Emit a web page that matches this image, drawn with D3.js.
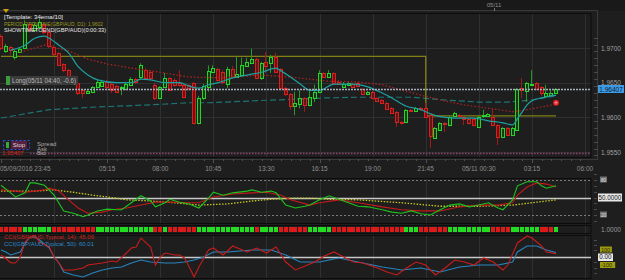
<!DOCTYPE html>
<html><head><meta charset="utf-8">
<script src="https://cdn.jsdelivr.net/npm/d3@7"></script>
<style>body{margin:0;background:#1e1e1e;overflow:hidden}svg{display:block;font-family:"Liberation Sans",Arial,sans-serif}</style>
</head><body><svg id="c" width="625" height="280"></svg>
<script>
// ---------------- DATA ----------------
const tickIdx = [0,22,33,44,55,66,77,88,99,110,121];
const tickLabels = ["05/09/2016 23:45","05:15","08:00","10:45","13:30","16:15","19:00","21:45","05/11 00:30","03:15","06:00"];
const gridIdx = [11,22,33,44,55,66,77,88,99,110,121];
const priceTicks = [1.955,1.96,1.965,1.97];

const opens = [1.9717,1.9696,1.9701,1.9688,1.9694,1.9700,1.9735,1.9726,1.9730,1.9735,
1.9723,1.9701,1.9693,1.9677,1.9668,1.9658,1.9650,1.9639,1.9635,1.9637,
1.9644,1.9645,1.9651,1.9648,1.9645,1.9642,1.9641,1.9647,1.9655,1.9657,
1.9668,1.9665,1.9647,1.9628,1.9644,1.9657,1.9654,1.9650,1.9647,1.9647,
1.9650,1.9592,1.9628,1.9644,1.9665,1.9670,1.9665,1.9648,1.9670,1.9658,
1.9661,1.9674,1.9678,1.9684,1.9657,1.9680,1.9678,1.9687,1.9670,1.9642,
1.9634,1.9616,1.9619,1.9628,1.9618,1.9629,1.9637,1.9664,1.9658,1.9664,
1.9651,1.9644,1.9647,1.9648,1.9650,1.9641,1.9634,1.9637,1.9628,1.9625,
1.9621,1.9613,1.9608,1.9593,1.9593,1.9611,1.9609,1.9613,1.9613,1.9603,
1.9570,1.9582,1.9592,1.9589,1.9602,1.9603,1.9601,1.9598,1.9598,1.9586,
1.9601,1.9602,1.9601,1.9589,1.9572,1.9585,1.9575,1.9582,1.9642,1.9639,
1.9647,1.9650,1.9644,1.9631,1.9632,1.9635];
const closes = [1.9700,1.9703,1.9696,1.9696,1.9699,1.9735,1.9726,1.9733,1.9737,1.9723,
1.9703,1.9691,1.9675,1.9668,1.9657,1.9650,1.9635,1.9634,1.9638,1.9644,
1.9651,1.9651,1.9644,1.9639,1.9637,1.9644,1.9648,1.9655,1.9650,1.9675,
1.9657,1.9657,1.9628,1.9644,1.9657,1.9639,1.9647,1.9647,1.9629,1.9642,
1.9593,1.9628,1.9645,1.9667,1.9671,1.9654,1.9650,1.9670,1.9658,1.9663,
1.9675,1.9680,1.9684,1.9657,1.9678,1.9674,1.9687,1.9665,1.9642,1.9634,
1.9616,1.9621,1.9628,1.9618,1.9629,1.9637,1.9664,1.9658,1.9664,1.9650,
1.9648,1.9648,1.9650,1.9644,1.9645,1.9634,1.9637,1.9628,1.9624,1.9621,
1.9613,1.9606,1.9593,1.9592,1.9611,1.9609,1.9613,1.9611,1.9600,1.9572,
1.9585,1.9592,1.9590,1.9601,1.9606,1.9601,1.9598,1.9592,1.9589,1.9601,
1.9603,1.9605,1.9589,1.9572,1.9585,1.9575,1.9585,1.9641,1.9639,1.9650,
1.9648,1.9642,1.9635,1.9635,1.9635,1.9641];
const highs = [1.9720,1.9706,1.9703,1.9697,1.9701,1.9740,1.9737,1.9737,1.9742,1.9737,
1.9726,1.9704,1.9694,1.9678,1.9670,1.9660,1.9651,1.9641,1.9639,1.9645,
1.9654,1.9654,1.9654,1.9650,1.9647,1.9645,1.9650,1.9658,1.9657,1.9678,
1.9671,1.9668,1.9650,1.9645,1.9664,1.9658,1.9657,1.9668,1.9648,1.9648,
1.9651,1.9631,1.9648,1.9675,1.9675,1.9671,1.9668,1.9673,1.9674,1.9687,
1.9686,1.9686,1.9699,1.9686,1.9680,1.9694,1.9690,1.9693,1.9671,1.9644,
1.9635,1.9637,1.9639,1.9629,1.9639,1.9647,1.9668,1.9665,1.9668,1.9665,
1.9654,1.9651,1.9651,1.9650,1.9651,1.9642,1.9638,1.9638,1.9629,1.9626,
1.9622,1.9615,1.9609,1.9595,1.9612,1.9612,1.9615,1.9615,1.9621,1.9605,
1.9586,1.9593,1.9593,1.9602,1.9608,1.9605,1.9602,1.9599,1.9599,1.9602,
1.9611,1.9606,1.9613,1.9590,1.9586,1.9586,1.9586,1.9642,1.9657,1.9651,
1.9668,1.9651,1.9645,1.9647,1.9639,1.9642];
const lows = [1.9697,1.9693,1.9690,1.9683,1.9693,1.9699,1.9723,1.9723,1.9727,1.9720,
1.9700,1.9688,1.9674,1.9665,1.9654,1.9647,1.9632,1.9628,1.9634,1.9635,
1.9642,1.9644,1.9641,1.9635,1.9635,1.9632,1.9639,1.9645,1.9648,1.9655,
1.9655,1.9654,1.9625,1.9626,1.9642,1.9638,1.9644,1.9644,1.9628,1.9639,
1.9590,1.9590,1.9625,1.9637,1.9664,1.9652,1.9648,1.9642,1.9657,1.9657,
1.9658,1.9673,1.9677,1.9655,1.9654,1.9664,1.9664,1.9664,1.9639,1.9631,
1.9611,1.9603,1.9613,1.9608,1.9616,1.9622,1.9635,1.9657,1.9657,1.9648,
1.9647,1.9642,1.9645,1.9642,1.9644,1.9632,1.9632,1.9626,1.9622,1.9619,
1.9612,1.9605,1.9586,1.9590,1.9592,1.9608,1.9608,1.9609,1.9599,1.9556,
1.9569,1.9581,1.9579,1.9587,1.9601,1.9599,1.9589,1.9590,1.9587,1.9585,
1.9599,1.9601,1.9587,1.9560,1.9570,1.9573,1.9573,1.9580,1.9628,1.9622,
1.9645,1.9641,1.9631,1.9629,1.9631,1.9634];

const ema10Idx = [2,5,7,9,10,12,14,16,18,20,24,27,29,31,34,37,39,41,43,45,48,51,54,57,58,60,62,64,66,69,73,76,79,81,84,87,89,91,94,98,101,104,106,107,108,109,110,112,115];
const ema10 = [1.9697,1.9704,1.9714,1.9717,1.9714,1.9704,1.9693,1.9673,1.9661,1.9654,1.9650,1.9650,1.9655,1.9654,1.9650,1.9650,1.9645,1.9642,1.9647,1.9650,1.9657,1.9661,1.9665,1.9671,1.9667,1.9658,1.9648,1.9639,1.9639,1.9648,1.9648,1.9644,1.9635,1.9628,1.9616,1.9611,1.9605,1.9601,1.9599,1.9599,1.9595,1.9592,1.9589,1.9598,1.9608,1.9618,1.9624,1.9628,1.9632];
const ema34Idx = [4,7,9,14,18,22,27,33,39,46,54,60,68,74,79,87,91,96,101,106,109,112,115];
const ema34 = [1.9694,1.9700,1.9704,1.9696,1.9684,1.9677,1.9671,1.9665,1.9658,1.9657,1.9661,1.9658,1.9652,1.9651,1.9647,1.9632,1.9625,1.9618,1.9613,1.9608,1.9611,1.9615,1.9619];
const emaLongIdx = [0,10,20,31,39,43,53,60,67,74,79,85,92,99,105,110,115];
const emaLong = [1.9599,1.9611,1.9615,1.9618,1.9621,1.9621,1.9624,1.9626,1.9628,1.9629,1.9629,1.9629,1.9625,1.9622,1.9622,1.9625,1.9631];

const prevDayOpen = 1.9688, dayOpen = 1.9602, dayChangeIdx = 88;
const lastPrice = 1.96407;
const stopPrice = 1.9549;
const orderMarkPrice = 1.9621;

const stochKIdx = [0,2,3,5,6,7,9,11,13,15,17,18,20,22,24,25,27,29,31,32,34,35,37,39,41,43,44,46,48,51,52,54,56,57,59,61,63,64,66,68,70,72,74,76,79,81,83,85,87,89,91,93,95,97,99,101,103,104,106,107,109,111,112,113,115];
const stochK = [71,58,51,58,75,75,71,54,27,23,17,20,27,30,29,29,41,53,44,34,41,47,42,39,32,49,59,54,58,61,63,59,61,58,37,32,35,37,46,53,47,41,35,34,29,25,23,27,22,20,29,37,39,34,37,41,32,29,46,70,77,77,70,66,70];
const stochDIdx = [0,3,5,7,9,10,12,14,16,18,21,23,26,29,32,35,39,41,44,48,52,55,58,60,64,66,70,74,79,83,87,91,95,99,103,106,107,109,111,113,115];
const stochD = [63,61,59,61,63,66,61,46,32,23,25,29,32,37,42,42,41,41,51,56,58,59,54,46,37,41,46,41,34,29,27,27,34,37,37,41,54,68,75,73,68];
const stochSIdx = [0,7,11,15,19,22,26,31,36,41,47,52,56,61,64,68,74,83,91,99,106,110,115];
const stochS = [61,61,63,59,54,51,46,44,41,37,39,44,47,49,49,47,46,41,35,35,37,41,46];

const trendSignals = ("RRRRR"+"GGGGGG"+"RRRRRRRRR"+"GGGGGGGGGGGG"+"RR"+"G"+"RRRRRR"+"GGGGGGGGGGGG"+"R"+"GGGG"+"RRRRRR"+"GGGGG"+"RRRRRRRRRRRRRRR"+"GGG"+"RRRRRR"+"GGGGGGGGG"+"RRRR"+"GGGGGG"+"RRR"+"G").split("");

const cci14Idx = [0,1,2,3,4,5,6,7,8,10,11,12,13,15,17,18,21,23,24,26,27,28,29,31,32,33,34,36,37,38,39,40,41,43,44,46,48,51,53,55,57,59,61,63,65,67,69,71,73,75,78,80,82,84,86,88,90,92,94,96,98,100,102,104,105,107,109,110,112,113,115];
const cci14 = [27,-20,-75,-80,0,200,267,293,200,133,0,-80,-173,-173,-147,-107,-80,-53,-67,53,120,133,253,133,-107,0,53,27,27,-13,-133,-267,-133,93,120,27,147,67,120,53,133,-67,-173,-120,-67,13,67,0,-67,-80,-147,-200,-240,-147,-67,-107,-240,-147,-40,-67,-107,-13,-67,-173,-107,187,280,253,147,67,45];
const cci50Idx = [0,1,2,4,5,6,7,8,10,11,12,13,15,17,19,21,23,25,27,29,31,34,36,38,40,42,44,47,52,56,59,62,66,70,74,79,83,87,91,95,99,103,106,107,109,111,113,115];
const cci50 = [93,67,27,67,187,267,267,227,120,0,-80,-200,-240,-267,-213,-173,-147,-133,-80,-40,-67,-80,-80,-67,-40,0,67,67,93,93,27,-67,-67,-13,-67,-133,-173,-147,-200,-133,-107,-107,-67,67,147,147,93,60];

// ---------------- DRAW ----------------
const svg = d3.select("#c");
const W = 625, H = 280, PR = 591;
svg.append("rect").attr("width",W).attr("height",H).attr("fill","#1e1e1e");
svg.append("rect").attr("width",W).attr("height",11).attr("fill","#191919");

const x = d3.scaleLinear().domain([0,121]).range([1,585]);
const y = d3.scaleLinear().domain([1.955,1.97]).range([152,48]);
const yS = d3.scaleLinear().domain([20,80]).range([215,180]);
const yC = d3.scaleLinear().domain([-100,100]).range([264.5,249.5]);
const cx = i => Math.round(x(i));

const panels = {main:[13,158], sub1:[178,224], sig:[225,234], cci:[235,279]};
const defs = svg.append("defs");
Object.entries(panels).forEach(([k,[t,b]])=>{
  defs.append("clipPath").attr("id","clip-"+k).append("rect").attr("x",0).attr("y",t).attr("width",PR).attr("height",b-t);
});

// outer frames
svg.append("rect").attr("x",-1.5).attr("y",10.5).attr("width",599).attr("height",149).attr("fill","none").attr("stroke","#3a3a3a");
Object.entries(panels).forEach(([k,[t,b]])=>{
  const g = svg.append("g");
  g.selectAll("line.v").data(gridIdx).join("line")
    .attr("x1",d=>cx(d)+0.5).attr("x2",d=>cx(d)+0.5).attr("y1",t).attr("y2",b)
    .attr("stroke","#303030").attr("stroke-width",1);
});
// main horizontal grid
svg.append("g").selectAll("line").data(priceTicks).join("line")
  .attr("x1",0).attr("x2",PR).attr("y1",d=>Math.round(y(d))+0.5).attr("y2",d=>Math.round(y(d))+0.5)
  .attr("stroke","#303030");
Object.entries(panels).forEach(([k,[t,b]])=>{
  svg.append("rect").attr("x",-0.5).attr("y",t+0.5).attr("width",PR+0.5).attr("height",b-t-1)
    .attr("fill","none").attr("stroke","#0c0c0c");
});

// price axis (right)
const axR = d3.axisRight(y).tickValues(priceTicks).tickSize(0).tickPadding(3).tickFormat(d3.format(".4f"));
const ag = svg.append("g").attr("transform","translate(598,0)").call(axR);
ag.select(".domain").remove();
ag.selectAll("text").attr("fill","#a0a0a0").attr("font-size","6.5px").attr("font-family","Liberation Sans, Arial");
const minor = d3.range(1.9545,1.9716,0.001);
svg.append("g").selectAll("line").data(minor).join("line")
  .attr("x1",594).attr("x2",598).attr("y1",d=>Math.round(y(d))+0.5).attr("y2",d=>Math.round(y(d))+0.5)
  .attr("stroke","#4a4a4a");

// time axis
const tg = svg.append("g");
tg.selectAll("line").data(d3.range(0,122,2)).join("line")
  .attr("x1",d=>cx(d)+0.5).attr("x2",d=>cx(d)+0.5).attr("y1",159).attr("y2",d=>d%11===0?163:161)
  .attr("stroke","#505050");
tg.selectAll("text").data(tickIdx).join("text")
  .attr("x",(d,i)=>i===0?0:x(d)).attr("y",171)
  .attr("text-anchor",(d,i)=>i===0?"start":"middle")
  .attr("fill","#8e8e8e").attr("font-size","6.5px").text((d,i)=>tickLabels[i]);

// top strip marker
svg.append("text").attr("x",494).attr("y",7).attr("text-anchor","middle").attr("fill","#8e8e8e").attr("font-size","6px").text("05/11");
svg.append("line").attr("x1",494.5).attr("x2",494.5).attr("y1",8).attr("y2",11).attr("stroke","#777");
svg.append("path").attr("d","M3,9 L9,9 L6,13 Z").attr("fill","#c8a010");

// ----- main panel content
const mg = svg.append("g").attr("clip-path","url(#clip-main)");
// long EMA dashed
const lineP = (idx,vals,sc)=>d3.line().x((d,i)=>x(idx[i])).y(d=>sc(d))(vals);
mg.append("path").attr("d",lineP(emaLongIdx,emaLong,y)).attr("fill","none").attr("stroke","#1f7373").attr("stroke-width",1.2).attr("stroke-dasharray","6,3");
// period open line
const poPts = [[0,prevDayOpen],[dayChangeIdx,prevDayOpen],[dayChangeIdx,dayOpen],[115,dayOpen]];
mg.append("path").attr("d",d3.line().x(d=>x(d[0])).y(d=>y(d[1]))(poPts)).attr("fill","none").attr("stroke","#7f7f14").attr("stroke-width",1.3);
// stop line
mg.append("line").attr("x1",30).attr("x2",PR).attr("y1",Math.round(y(stopPrice))+0.5).attr("y2",Math.round(y(stopPrice))+0.5)
  .attr("stroke","#93406c").attr("stroke-width",1.5).attr("stroke-dasharray","1.5,1.5");
// candles
const cd = d3.range(opens.length).map(i=>({i,o:opens[i],h:highs[i],l:lows[i],c:closes[i]}));
const cg = mg.append("g").selectAll("g").data(cd).join("g");
cg.append("line").attr("x1",d=>cx(d.i)-0.5).attr("x2",d=>cx(d.i)-0.5)
  .attr("y1",d=>y(d.h)).attr("y2",d=>y(d.l))
  .attr("stroke",d=>d.c>=d.o?"#239a23":"#a01a1a").attr("stroke-width",1);
cg.append("rect").attr("x",d=>cx(d.i)-1.5).attr("width",3)
  .attr("y",d=>Math.round(y(Math.max(d.o,d.c)))+0.5)
  .attr("height",d=>Math.max(1,Math.round(Math.abs(y(d.o)-y(d.c)))))
  .attr("fill",d=>d.c>=d.o?"#113f11":"#6e1010")
  .attr("stroke",d=>d.c>=d.o?"#27d427":"#d42222").attr("stroke-width",1);
// EMAs
mg.append("path").attr("d",lineP(ema34Idx,ema34,y)).attr("fill","none").attr("stroke","#b82222").attr("stroke-width",1.2).attr("stroke-dasharray","1.5,2");
mg.append("path").attr("d",d3.line().curve(d3.curveMonotoneX).x((d,i)=>x(ema10Idx[i])).y(d=>y(d))(ema10)).attr("fill","none").attr("stroke","#1fa0a0").attr("stroke-width",1.2);
// last price dotted line
mg.append("line").attr("x1",0).attr("x2",PR).attr("y1",Math.round(y(lastPrice))+0.5).attr("y2",Math.round(y(lastPrice))+0.5)
  .attr("stroke","#a8aebd").attr("stroke-width",1.6).attr("stroke-dasharray","2,1");
// order marker
mg.append("circle").attr("cx",x(115)).attr("cy",y(orderMarkPrice)).attr("r",3).attr("fill","#e01818");
mg.append("path").attr("d",`M${x(115)-2},${y(orderMarkPrice)} h4 M${x(115)},${y(orderMarkPrice)-2} v4`).attr("stroke","#ff9a9a").attr("stroke-width",0.8);

// last price label
svg.append("rect").attr("x",598).attr("y",85).attr("width",26).attr("height",8).attr("fill","#3d9be6");
svg.append("text").attr("x",611).attr("y",91.5).attr("text-anchor","middle").attr("fill","#0d1a2a").attr("font-size","6.5px").text(d3.format(".5f")(lastPrice));

// top-left texts
const tl = [["[Template: 34ema/10]","#e8e8e8",19,59],["PERIOD OPEN LINE(GBP/AUD, D1): "+d3.format(".4f")(dayOpen),"#9a9a22",25.5,99],["SHOWTIMETOEND(GBP/AUD)(0:00:33)","#e8e8e8",32,102]];
svg.selectAll("text.tl").data(tl).join("text").attr("class","tl").attr("x",4).attr("y",d=>d[2])
  .attr("fill",d=>d[1]).attr("font-size","6px").attr("textLength",d=>d[3]).attr("lengthAdjust","spacingAndGlyphs").text(d=>d[0]);

// Long label
svg.append("rect").attr("x",6).attr("y",76).attr("width",72).attr("height",9).attr("fill","#3a3a3a");
svg.append("rect").attr("x",6).attr("y",76).attr("width",4).attr("height",9).attr("fill","#3e9a3e");
svg.append("text").attr("x",12).attr("y",82.8).attr("fill","#b8b8b8").attr("font-size","6.3px").attr("textLength",64).attr("lengthAdjust","spacingAndGlyphs").text("Long(05/11 04:40, -0.6)");

// Stop widget
svg.append("rect").attr("x",3.5).attr("y",140.5).attr("width",26).attr("height",9).attr("fill","none").attr("stroke","#2a55e0").attr("stroke-dasharray","2,2");
svg.append("rect").attr("x",6).attr("y",142).attr("width",3).attr("height",6).attr("fill","#3aa83a");
svg.append("rect").attr("x",11).attr("y",141).attr("width",16).attr("height",8).attr("fill","#56203e");
svg.append("text").attr("x",19).attr("y",147.3).attr("text-anchor","middle").attr("fill","#dcdcdc").attr("font-size","6px").text("Stop");
[["Spread",146],["Ask",150.5],["Bid",155]].forEach(([t,yy])=>svg.append("text").attr("x",37).attr("y",yy).attr("fill","#a8a8a8").attr("font-size","6px").text(t));
svg.append("text").attr("x",2).attr("y",155).attr("fill","#e02020").attr("font-size","6px").text("1.95407");

// ----- sub panel 1 (oscillator)
const s1 = svg.append("g").attr("clip-path","url(#clip-sub1)");
[80,20].forEach(v=>s1.append("line").attr("x1",0).attr("x2",PR).attr("y1",Math.round(yS(v))+0.5).attr("y2",Math.round(yS(v))+0.5).attr("stroke","#7a7a7a").attr("stroke-dasharray","2,2"));
s1.append("line").attr("x1",0).attr("x2",PR).attr("y1",Math.round(yS(50))+0.5).attr("y2",Math.round(yS(50))+0.5).attr("stroke","#c8c8c8").attr("stroke-width",1.3);
s1.append("path").attr("d",lineP(stochSIdx,stochS,yS)).attr("fill","none").attr("stroke","#c8c820").attr("stroke-width",1.3).attr("stroke-dasharray","1.5,1.5");
s1.append("path").attr("d",lineP(stochDIdx,stochD,yS)).attr("fill","none").attr("stroke","#c41a1a").attr("stroke-width",1.1);
s1.append("path").attr("d",lineP(stochKIdx,stochK,yS)).attr("fill","none").attr("stroke","#1ec21e").attr("stroke-width",1.1);
// labels
[[80,"80"],[20,"20"]].forEach(([v,t])=>{
  svg.append("rect").attr("x",600).attr("y",yS(v)-3.5).attr("width",7).attr("height",6).attr("fill","#6e6e6e");
  svg.append("text").attr("x",603.5).attr("y",yS(v)+1.5).attr("text-anchor","middle").attr("fill","#e0e0e0").attr("font-size","4.5px").text(t);
});
svg.append("rect").attr("x",598).attr("y",yS(50)-4).attr("width",24).attr("height",8).attr("fill","#e8e8e8");
svg.append("text").attr("x",610).attr("y",yS(50)+2.3).attr("text-anchor","middle").attr("fill","#111").attr("font-size","6.3px").text("50.0000");
svg.append("g").selectAll("line").data(d3.range(10,91,10)).join("line").attr("x1",594).attr("x2",597).attr("y1",d=>Math.round(yS(d))+0.5).attr("y2",d=>Math.round(yS(d))+0.5).attr("stroke","#4a4a4a");

// ----- signal squares
const sg = svg.append("g").attr("clip-path","url(#clip-sig)");
sg.selectAll("rect").data(trendSignals).join("rect")
  .attr("x",(d,i)=>cx(i)-2).attr("y",227).attr("width",4).attr("height",5)
  .attr("fill",d=>d==="G"?"#22dd22":"#dd1a1a");
svg.append("text").attr("x",601).attr("y",231.5).attr("fill","#9a9a9a").attr("font-size","6.5px").text("1.0000");

// ----- CCI panel
const cg2 = svg.append("g").attr("clip-path","url(#clip-cci)");
cg2.append("line").attr("x1",0).attr("x2",PR).attr("y1",Math.round(yC(0))+0.5).attr("y2",Math.round(yC(0))+0.5).attr("stroke","#c8c8c8").attr("stroke-width",1.3);
cg2.append("path").attr("d",lineP(cci50Idx,cci50,yC)).attr("fill","none").attr("stroke","#2884bd").attr("stroke-width",1.1);
cg2.append("path").attr("d",lineP(cci14Idx,cci14,yC)).attr("fill","none").attr("stroke","#c81c1c").attr("stroke-width",1.1);
svg.append("text").attr("x",4).attr("y",239).attr("fill","#d02020").attr("font-size","6px").text("CCI(GBP/AUD,Typical, 14): "+d3.format(".2f")(45.09));
svg.append("text").attr("x",4).attr("y",245.5).attr("fill","#2a8ac8").attr("font-size","6px").text("CCI(GBP/AUD,Typical, 50): "+d3.format(".2f")(60.01));
[[100,"100"],[-100,"-100"]].forEach(([v,t])=>{
  const yy = v>0?249.5:265;
  svg.append("rect").attr("x",600).attr("y",yy-3).attr("width",t.length*3.3+2).attr("height",6).attr("fill","#9a9a12");
  svg.append("text").attr("x",601).attr("y",yy+2).attr("fill","#2a2a00").attr("font-size","5.5px").text(t);
});
svg.append("rect").attr("x",598).attr("y",253.5).attr("width",15).attr("height",7.5).attr("fill","#e8e8e8");
svg.append("text").attr("x",605.5).attr("y",259.4).attr("text-anchor","middle").attr("fill","#111").attr("font-size","6.3px").text("0.00");
svg.append("g").selectAll("line").data([240,245,250,262,268,273]).join("line").attr("x1",594).attr("x2",597).attr("y1",d=>d+0.5).attr("y2",d=>d+0.5).attr("stroke","#4a4a4a");
</script>
</body></html>
